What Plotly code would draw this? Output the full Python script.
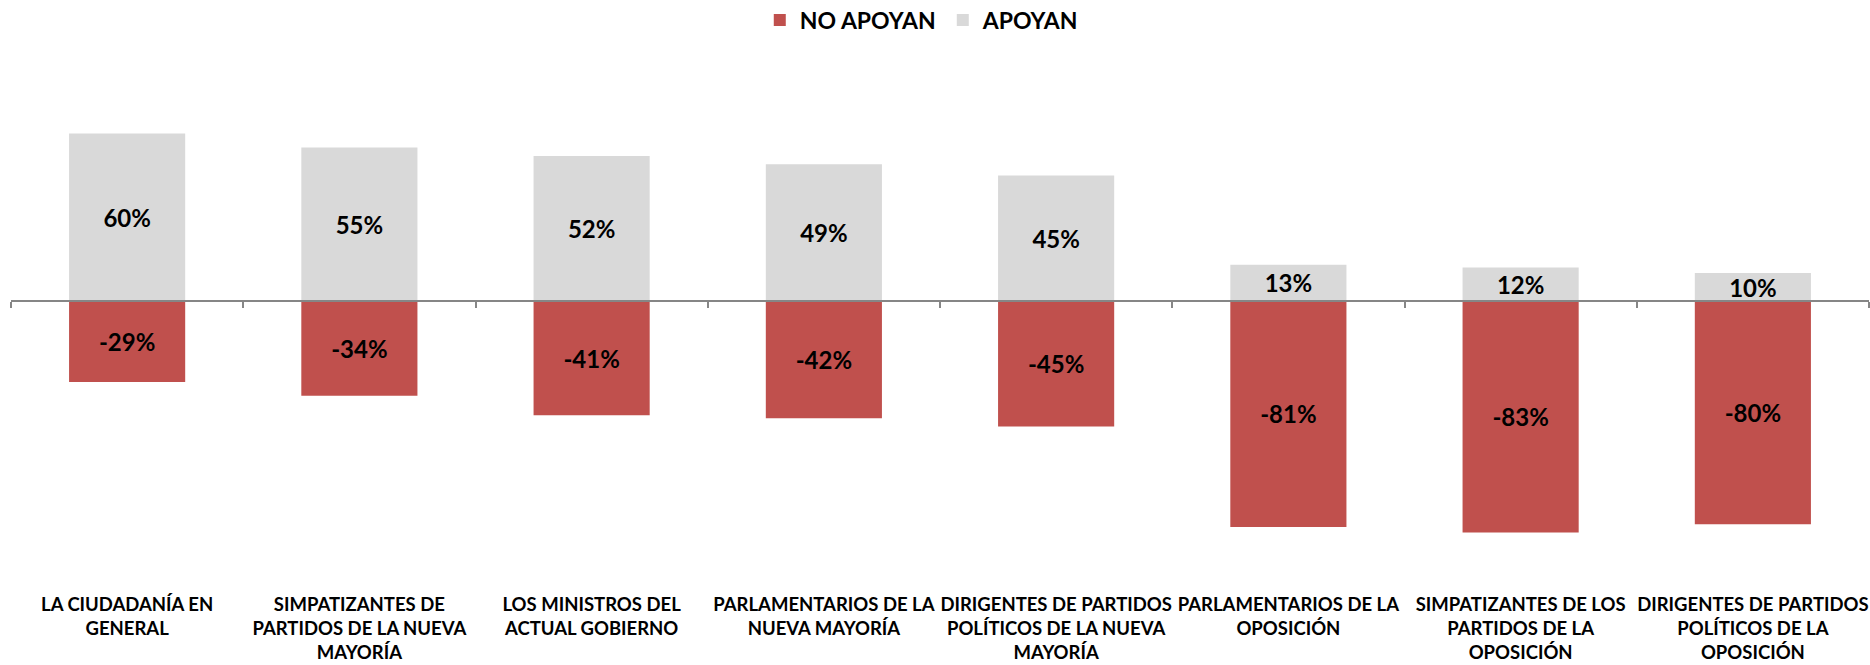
import plotly.graph_objects as go

categories = [
    "LA CIUDADANÍA EN<br>GENERAL",
    "SIMPATIZANTES DE<br>PARTIDOS DE LA NUEVA<br>MAYORÍA",
    "LOS MINISTROS DEL<br>ACTUAL GOBIERNO",
    "PARLAMENTARIOS DE LA<br>NUEVA MAYORÍA",
    "DIRIGENTES DE PARTIDOS<br>POLÍTICOS DE LA NUEVA<br>MAYORÍA",
    "PARLAMENTARIOS DE LA<br>OPOSICIÓN",
    "SIMPATIZANTES DE LOS<br>PARTIDOS DE LA<br>OPOSICIÓN",
    "DIRIGENTES DE PARTIDOS<br>POLÍTICOS DE LA<br>OPOSICIÓN",
]
no_apoyan = [-29, -34, -41, -42, -45, -81, -83, -80]
apoyan = [60, 55, 52, 49, 45, 13, 12, 10]

FONT = "Lato, Carlito, 'Liberation Sans', sans-serif"
RED = "#C0504D"
GREY = "#D9D9D9"
AXIS = "#868686"

x_idx = list(range(len(categories)))
y_range = [-101.8, 100]

fig = go.Figure()
fig.add_trace(go.Bar(
    x=x_idx, y=no_apoyan, name="NO APOYAN",
    marker=dict(color=RED, line=dict(width=0)),
    text=[f"{v}%" for v in no_apoyan], textposition="inside",
    insidetextanchor="middle",
    textfont=dict(family=FONT, size=24, color="black", weight="bold"),
    width=0.5, hoverinfo="skip", xaxis="x", yaxis="y",
))
fig.add_trace(go.Bar(
    x=x_idx, y=apoyan, name="APOYAN",
    marker=dict(color=GREY, line=dict(width=0)),
    text=[f"{v}%" for v in apoyan], textposition="inside",
    insidetextanchor="middle",
    textfont=dict(family=FONT, size=24, color="black", weight="bold"),
    width=0.5, hoverinfo="skip", xaxis="x2", yaxis="y",
))

zero_pos = (0 - y_range[0]) / (y_range[1] - y_range[0])

fig.update_layout(
    width=1870, height=665,
    paper_bgcolor="white", plot_bgcolor="white",
    barmode="relative",
    margin=dict(l=11, r=1, t=22, b=80, autoexpand=False),
    font=dict(family=FONT, color="black"),
    uniformtext=dict(minsize=24, mode="show"),
    showlegend=True,
    legend=dict(
        orientation="h", x=0.403, xanchor="left", y=1.0036, yanchor="middle",
        font=dict(family=FONT, size=23, color="black", weight="bold"),
        traceorder="normal", itemwidth=30,
        entrywidth=138, entrywidthmode="pixels",
    ),
    xaxis=dict(
        range=[-0.5, len(categories) - 0.5],
        tickmode="array", tickvals=x_idx, ticktext=categories,
        tickangle=0, automargin=False, ticklabeloverflow="allow",
        ticklabelstandoff=6,
        showline=False, ticks="", showgrid=False, zeroline=False,
        tickfont=dict(family=FONT, size=18.5, color="black", weight="bold"),
        fixedrange=True,
    ),
    xaxis2=dict(
        overlaying="x", anchor="free", position=zero_pos,
        range=[-0.5, len(categories) - 0.5],
        tickmode="array",
        tickvals=[i - 0.5 for i in range(len(categories) + 1)],
        ticks="outside", ticklen=6, tickwidth=2, tickcolor=AXIS,
        showline=True, linecolor=AXIS, linewidth=2,
        showticklabels=False, showgrid=False, zeroline=False,
        automargin=False, fixedrange=True,
    ),
    yaxis=dict(
        range=y_range, visible=False, showgrid=False, zeroline=False,
        fixedrange=True,
    ),
)

fig.write_html(
    "out.html",
    config={"displayModeBar": False, "staticPlot": True},
    post_script="document.body.style.margin='0';document.body.style.overflow='hidden';",
)
